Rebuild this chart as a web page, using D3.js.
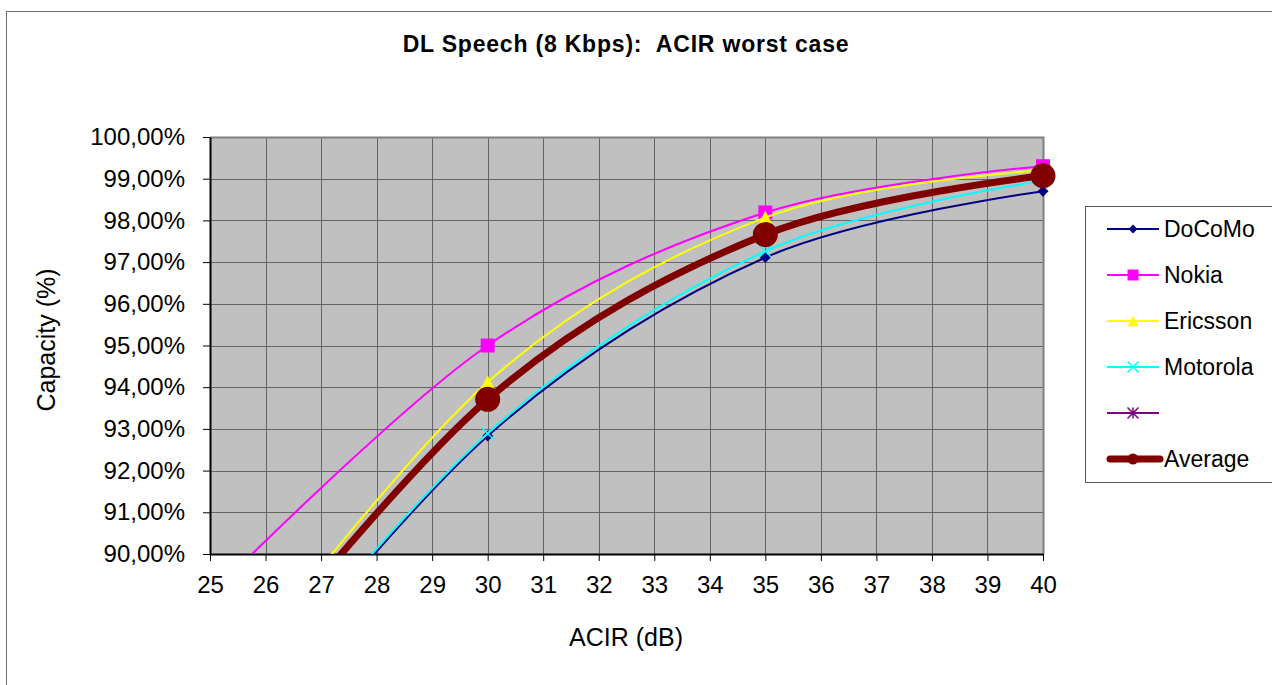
<!DOCTYPE html>
<html>
<head>
<meta charset="utf-8">
<script src="https://cdn.jsdelivr.net/npm/d3@7"></script>
<style>
  body { margin: 0; background: #fff; }
  svg text { font-family: "Liberation Sans", Arial, sans-serif; fill: #000; }
</style>
</head>
<body>
<div id="chart"></div>
<script>
// ACIR values (dB) where the series were measured
const acir = [25, 30, 35, 40];

// capacity in %, one array per company
const docomo = [85.3, 92.83, 97.11, 98.7];
const nokia = [89.0, 95.0, 98.19, 99.3];
const ericsson = [86.3, 94.12, 98.07, 99.2];
const motorola = [85.4, 92.89, 97.26, 98.95];
const average = [86.2, 93.71, 97.66, 99.07];

const xTicks = d3.range(25, 41, 1);
const yTicks = d3.range(90, 100.5, 1);

const series = [
  { name: "DoCoMo", values: docomo, color: "#000080", marker: "diamond", width: 2 },
  { name: "Nokia", values: nokia, color: "#ff00ff", marker: "square", width: 2 },
  { name: "Ericsson", values: ericsson, color: "#ffff00", marker: "triangle", width: 2 },
  { name: "Motorola", values: motorola, color: "#00ffff", marker: "x", width: 2 },
  { name: "", values: [], color: "#800080", marker: "star", width: 2 },
  { name: "Average", values: average, color: "#800000", marker: "circle", width: 7 }
];

const W = 1272, H = 685;
const plot = { left: 210, right: 1043, top: 137, bottom: 554 };

const svg = d3.select("#chart").append("svg")
  .attr("width", W)
  .attr("height", H);

// chart area border
svg.append("rect")
  .attr("x", 6.5).attr("y", 11.5)
  .attr("width", W + 10).attr("height", H + 10)
  .attr("fill", "#fff")
  .attr("stroke", "#6e6e6e")
  .attr("stroke-width", 1);

const x = d3.scaleLinear().domain([25, 40]).range([plot.left, plot.right]);
const y = d3.scaleLinear().domain([90, 100]).range([plot.bottom, plot.top]);

// plot background
svg.append("rect")
  .attr("x", plot.left).attr("y", plot.top)
  .attr("width", plot.right - plot.left)
  .attr("height", plot.bottom - plot.top)
  .attr("fill", "#c0c0c0");

// gridlines
svg.append("g")
  .selectAll("line")
  .data(yTicks)
  .join("line")
  .attr("x1", plot.left).attr("x2", plot.right)
  .attr("y1", d => Math.round(y(d)) + 0.5).attr("y2", d => Math.round(y(d)) + 0.5)
  .attr("stroke", "#666");

svg.append("g")
  .selectAll("line")
  .data(xTicks)
  .join("line")
  .attr("x1", d => Math.round(x(d)) + 0.5).attr("x2", d => Math.round(x(d)) + 0.5)
  .attr("y1", plot.top).attr("y2", plot.bottom)
  .attr("stroke", "#666");

// plot border (top, right)
svg.append("path")
  .attr("d", `M${plot.left},${plot.top + 0.5}H${plot.right + 0.5}V${plot.bottom}`)
  .attr("fill", "none")
  .attr("stroke", "#808080")
  .attr("stroke-width", 2);

// axes
const fmt = d => d3.format(".2f")(d).replace(".", ",") + "%";

const yAxis = svg.append("g")
  .attr("transform", `translate(${plot.left},0)`)
  .call(d3.axisLeft(y).tickValues(yTicks).tickFormat(fmt).tickSize(7).tickPadding(18).tickSizeOuter(0));

const xAxis = svg.append("g")
  .attr("transform", `translate(0,${plot.bottom})`)
  .call(d3.axisBottom(x).tickValues(xTicks).tickFormat(d3.format("d")).tickSize(7).tickPadding(15).tickSizeOuter(0));

[yAxis, xAxis].forEach(g => {
  g.selectAll("path").attr("stroke", "#000").attr("stroke-width", 2);
  g.selectAll("line").attr("stroke", "#000");
  g.selectAll("text").style("font-size", "24px").attr("font-family", null);
});

// lines
const clip = svg.append("clipPath").attr("id", "plotclip")
  .append("rect")
  .attr("x", plot.left).attr("y", plot.top)
  .attr("width", plot.right - plot.left)
  .attr("height", plot.bottom - plot.top);

const line = d3.line()
  .x(d => x(d[0]))
  .y(d => y(d[1]))
  .curve(d3.curveCardinal.tension(0));

function markerPath(type, s) {
  const h = s / 2;
  if (type === "diamond") return `M0,${-h}L${h},0L0,${h}L${-h},0Z`;
  if (type === "square") return `M${-h},${-h}H${h}V${h}H${-h}Z`;
  if (type === "triangle") return `M0,${-h}L${h},${h}H${-h}Z`;
  if (type === "x") return `M${-h},${-h}L${h},${h}M${h},${-h}L${-h},${h}`;
  if (type === "star") return `M${-h},${-h}L${h},${h}M${h},${-h}L${-h},${h}M0,${-h}V${h}`;
  return "";
}

function drawMarker(g, type, color, s) {
  if (type === "circle") {
    g.append("circle").attr("r", s / 2).attr("fill", color);
  } else if (type === "x" || type === "star") {
    g.append("path").attr("d", markerPath(type, s)).attr("fill", "none")
      .attr("stroke", color).attr("stroke-width", 1.5);
  } else {
    g.append("path").attr("d", markerPath(type, s)).attr("fill", color);
  }
}

const markerSize = { diamond: 11, square: 14, triangle: 14, x: 12, star: 11, circle: 25 };

series.forEach(s => {
  if (!s.values.length) return;
  const pts = acir.map((a, i) => [a, s.values[i]]);
  svg.append("path")
    .datum(pts)
    .attr("clip-path", "url(#plotclip)")
    .attr("d", line)
    .attr("fill", "none")
    .attr("stroke", s.color)
    .attr("stroke-width", s.width);

  pts.filter(p => p[1] >= 90 && p[1] <= 100).forEach(p => {
    const g = svg.append("g").attr("transform", `translate(${x(p[0])},${y(p[1])})`);
    drawMarker(g, s.marker, s.color, markerSize[s.marker]);
  });
});

// titles
svg.append("text")
  .attr("x", 626).attr("y", 52)
  .attr("text-anchor", "middle")
  .style("font-size", "23px")
  .style("font-weight", "bold")
  .style("letter-spacing", "0.8px")
  .style("white-space", "pre")
  .text("DL Speech (8 Kbps):  ACIR worst case");

svg.append("text")
  .attr("x", 626).attr("y", 646)
  .attr("text-anchor", "middle")
  .style("font-size", "25px")
  .text("ACIR (dB)");

svg.append("text")
  .attr("transform", `translate(55,340) rotate(-90)`)
  .attr("text-anchor", "middle")
  .style("font-size", "25px")
  .text("Capacity (%)");

// legend
const legend = svg.append("g");
legend.append("rect")
  .attr("x", 1085.5).attr("y", 206.5)
  .attr("width", 200).attr("height", 276)
  .attr("fill", "#fff")
  .attr("stroke", "#555");

const legendMarker = { diamond: 9, square: 11, triangle: 11, x: 11, star: 11, circle: 11 };

series.forEach((s, i) => {
  const yy = 229 + i * 46;
  legend.append("line")
    .attr("x1", s.width > 3 ? 1110 : 1107).attr("x2", s.width > 3 ? 1160 : 1159)
    .attr("y1", yy).attr("y2", yy)
    .attr("stroke", s.color)
    .attr("stroke-width", s.width)
    .attr("stroke-linecap", s.width > 3 ? "round" : "butt");
  const g = legend.append("g").attr("transform", `translate(1133,${yy})`);
  drawMarker(g, s.marker, s.color, legendMarker[s.marker]);
  legend.append("text")
    .attr("x", 1164).attr("y", yy + 8)
    .style("font-size", "23px")
    .text(s.name);
});
</script>
</body>
</html>
